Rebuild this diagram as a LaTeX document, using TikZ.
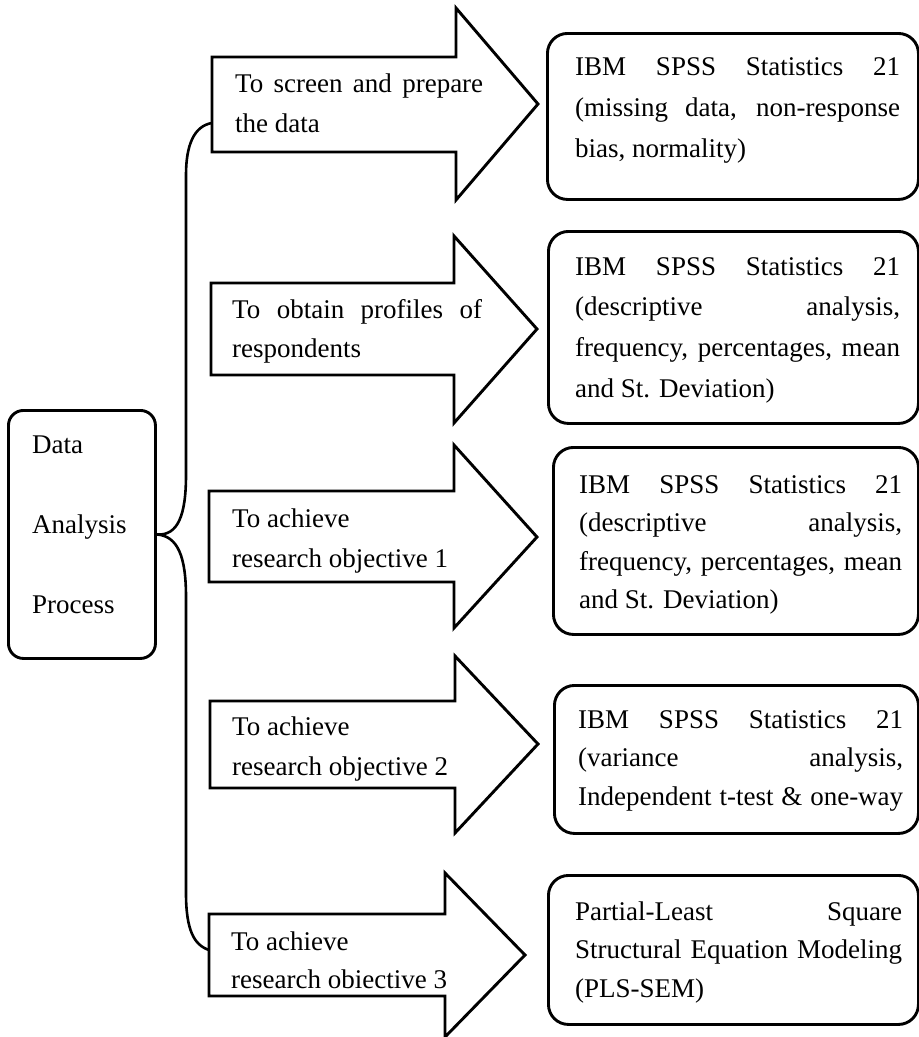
\documentclass[tikz,border=0pt]{standalone}
\usepackage{fontspec}
\setmainfont{Liberation Serif}
\newcommand\jl[1]{\makebox[\linewidth][s]{#1}}
\newcommand\tblock[3]{\parbox[t]{#1}{\setlength\baselineskip{#2}#3}}
\tikzset{
  ln/.style={line width=2.9pt},
  bigarrow/.style={ln, draw=black, fill=white, line join=miter},
  rbox/.style={ln, draw=black, fill=white, rounded corners=20pt, inner sep=0pt, anchor=north west},
  lbl/.style={inner sep=0pt, anchor=base west, font=\fontsize{27}{40}\selectfont},
  brace/.style={line width=2.6pt, draw=black}
}
\begin{document}
\begin{tikzpicture}[x=1pt, y=-1pt]
\fill[white] (0,0) rectangle (919,1037);
\useasboundingbox (0,0) rectangle (919,1037);

% left box
\node[rbox, rounded corners=15pt, minimum width=147pt, minimum height=248pt] (dap) at (7,409) {};
\node[lbl] (dapt) at (32,453) {\tblock{110pt}{80pt}{Data\\Analysis\\Process}};

% big arrows
\draw[bigarrow] (212,57) -- (456,57) -- (456,8) -- (538,104) -- (456,200) -- (456,152) -- (212,152) -- cycle;
\draw[bigarrow] (211,283) -- (454,283) -- (454,236) -- (537,329) -- (454,423) -- (454,375) -- (211,375) -- cycle;
\draw[bigarrow] (209,491) -- (454,491) -- (454,445) -- (537,537) -- (454,628) -- (454,582) -- (209,582) -- cycle;
\draw[bigarrow] (210,701) -- (455,701) -- (455,656) -- (538,744) -- (455,833) -- (455,788) -- (210,788) -- cycle;
\draw[bigarrow] (209,914) -- (445,914) -- (445,873) -- (525,955) -- (445,1037) -- (445,996) -- (209,996) -- cycle;

\coordinate (a1w) at (212,123);
\coordinate (a5w) at (209,950);

\node[lbl] (t1) at (235,92) {\tblock{248pt}{40pt}{\jl{To screen and prepare}\\the data}};
\node[lbl] (t2) at (232,318) {\tblock{250pt}{39pt}{\jl{To obtain profiles of}\\respondents}};
\node[lbl] (t3) at (232,527) {\tblock{260pt}{40pt}{To achieve\\research objective 1}};
\node[lbl] (t4) at (232,735) {\tblock{260pt}{40pt}{To achieve\\research objective 2}};
\node[lbl] (t5) at (231,950) {\tblock{260pt}{38pt}{To achieve\\research obiective 3}};

% brace connector
\draw[brace] (a1w) .. controls (194,126) and (186,145) .. (186,175) -- (186,475)
  .. controls (186,515) and (178,536) .. (dap.east)
  .. controls (178,536) and (186,557) .. (186,597) -- (186,893)
  .. controls (186,930) and (194,945) .. (a5w);

% right boxes
\node[rbox, minimum width=371pt, minimum height=166pt] (r1) at (546,32) {};
\node[rbox, minimum width=370pt, minimum height=192pt] (r2) at (547,230) {};
\node[rbox, minimum width=365pt, minimum height=187pt] (r3) at (552,446) {};
\node[rbox, minimum width=364pt, minimum height=148pt] (r4) at (553,684) {};
\node[rbox, minimum width=370pt, minimum height=149pt] (r5) at (547,874) {};

\node[lbl] (s1) at (575,75) {\tblock{325pt}{41pt}{\jl{IBM SPSS Statistics 21}\\\jl{(missing data, non-response}\\bias, normality)}};
\node[lbl] (s2) at (575,275) {\tblock{325pt}{40.7pt}{\jl{IBM SPSS Statistics 21}\\\jl{(descriptive analysis,}\\\jl{frequency, percentages, mean}\\and St. Deviation)}};
\node[lbl] (s3) at (579,493) {\tblock{323pt}{38.5pt}{\jl{IBM SPSS Statistics 21}\\\jl{(descriptive analysis,}\\\jl{frequency, percentages, mean}\\and St. Deviation)}};
\node[lbl] (s4) at (578,728) {\tblock{325pt}{38.5pt}{\jl{IBM SPSS Statistics 21}\\\jl{(variance analysis,}\\\jl{Independent t-test \& one-way}}};
\node[lbl] (s5) at (575,920) {\tblock{327pt}{38.5pt}{\jl{Partial-Least Square}\\\jl{Structural Equation Modeling}\\(PLS-SEM)}};
\end{tikzpicture}
\end{document}
